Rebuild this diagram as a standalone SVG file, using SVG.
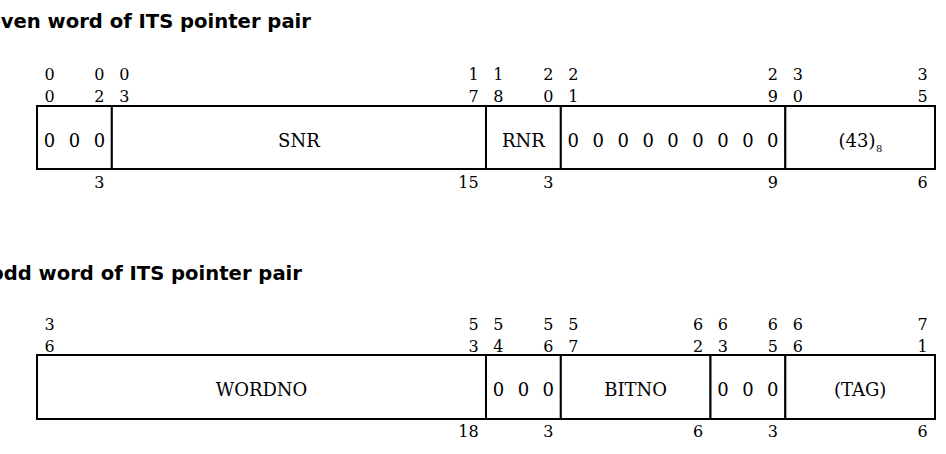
<svg xmlns="http://www.w3.org/2000/svg" width="946" height="454" viewBox="0 0 946 454">
<style>
.t{font-family:"DejaVu Sans",sans-serif;font-weight:bold;font-size:19.6px;fill:#000;text-anchor:end}
.n{font-family:"DejaVu Serif","Liberation Serif",serif;font-size:16px;fill:#000;text-anchor:middle}
.c{font-family:"DejaVu Serif","Liberation Serif",serif;font-size:18px;fill:#000;text-anchor:middle}
.ce{font-family:"DejaVu Serif","Liberation Serif",serif;font-size:18px;fill:#000;text-anchor:end}
.e{font-family:"DejaVu Serif","Liberation Serif",serif;font-size:16px;fill:#000;text-anchor:end}
.s{font-family:"DejaVu Serif","Liberation Serif",serif;font-size:10px;fill:#000;text-anchor:start}
.b{fill:#fff;stroke:#000;stroke-width:2}
</style>
<rect width="946" height="454" fill="#fff"/>
<text class="t" x="311" y="28">even word of ITS pointer pair</text>
<text class="t" x="302" y="280">odd word of ITS pointer pair</text>

<g id="even-word">
<g id="f0-2">
<rect class="b" x="37" y="106" width="74.83" height="63"/>
<text class="n" x="49.47" y="80">0</text><text class="n" x="49.47" y="102">0</text>
<text class="n" x="99.36" y="80">0</text><text class="n" x="99.36" y="102">2</text>
<text class="c" x="49.47" y="147">0</text><text class="c" x="74.42" y="147">0</text><text class="c" x="99.36" y="147">0</text>
<text class="n" x="99.36" y="188">3</text>
</g>
<g id="f3-17">
<rect class="b" x="111.83" y="106" width="374.17" height="63"/>
<text class="n" x="124.31" y="80">0</text><text class="n" x="124.31" y="102">3</text>
<text class="n" x="473.52" y="80">1</text><text class="n" x="473.52" y="102">7</text>
<text class="c" x="298.9" y="147">SNR</text>
<text class="e" x="478.6" y="188">15</text>
</g>
<g id="f18-20">
<rect class="b" x="486" y="106" width="74.83" height="63"/>
<text class="n" x="498.46" y="80">1</text><text class="n" x="498.46" y="102">8</text>
<text class="n" x="548.35" y="80">2</text><text class="n" x="548.35" y="102">0</text>
<text class="c" x="523.4" y="147">RNR</text>
<text class="n" x="548.35" y="188">3</text>
</g>
<g id="f21-29">
<rect class="b" x="560.83" y="106" width="224.5" height="63"/>
<text class="n" x="573.3" y="80">2</text><text class="n" x="573.3" y="102">1</text>
<text class="n" x="772.85" y="80">2</text><text class="n" x="772.85" y="102">9</text>
<text class="c" x="573.3" y="147">0</text><text class="c" x="598.24" y="147">0</text><text class="c" x="623.19" y="147">0</text><text class="c" x="648.13" y="147">0</text><text class="c" x="673.08" y="147">0</text><text class="c" x="698.02" y="147">0</text><text class="c" x="722.96" y="147">0</text><text class="c" x="747.91" y="147">0</text><text class="c" x="772.85" y="147">0</text>
<text class="n" x="772.85" y="188">9</text>
</g>
<g id="f30-35">
<rect class="b" x="785.33" y="106" width="149.67" height="63"/>
<text class="n" x="797.8" y="80">3</text><text class="n" x="797.8" y="102">0</text>
<text class="n" x="922.52" y="80">3</text><text class="n" x="922.52" y="102">5</text>
<text class="ce" x="875.5" y="147">(43)</text><text class="s" x="876" y="152">8</text>
<text class="n" x="922.52" y="188">6</text>
</g>
</g>

<g id="odd-word">
<g id="f36-53">
<rect class="b" x="37" y="355" width="449" height="64"/>
<text class="n" x="49.47" y="330">3</text><text class="n" x="49.47" y="352">6</text>
<text class="n" x="473.52" y="330">5</text><text class="n" x="473.52" y="352">3</text>
<text class="c" x="261.5" y="396">WORDNO</text>
<text class="e" x="478.6" y="437">18</text>
</g>
<g id="f54-56">
<rect class="b" x="486" y="355" width="74.83" height="64"/>
<text class="n" x="498.46" y="330">5</text><text class="n" x="498.46" y="352">4</text>
<text class="n" x="548.35" y="330">5</text><text class="n" x="548.35" y="352">6</text>
<text class="c" x="498.46" y="396">0</text><text class="c" x="523.4" y="396">0</text><text class="c" x="548.35" y="396">0</text>
<text class="n" x="548.35" y="437">3</text>
</g>
<g id="f57-62">
<rect class="b" x="560.83" y="355" width="149.67" height="64"/>
<text class="n" x="573.3" y="330">5</text><text class="n" x="573.3" y="352">7</text>
<text class="n" x="698.02" y="330">6</text><text class="n" x="698.02" y="352">2</text>
<text class="c" x="635.66" y="396">BITNO</text>
<text class="n" x="698.02" y="437">6</text>
</g>
<g id="f63-65">
<rect class="b" x="710.5" y="355" width="74.83" height="64"/>
<text class="n" x="722.96" y="330">6</text><text class="n" x="722.96" y="352">3</text>
<text class="n" x="772.85" y="330">6</text><text class="n" x="772.85" y="352">5</text>
<text class="c" x="722.96" y="396">0</text><text class="c" x="747.91" y="396">0</text><text class="c" x="772.85" y="396">0</text>
<text class="n" x="772.85" y="437">3</text>
</g>
<g id="f66-71">
<rect class="b" x="785.33" y="355" width="149.67" height="64"/>
<text class="n" x="797.8" y="330">6</text><text class="n" x="797.8" y="352">6</text>
<text class="n" x="922.52" y="330">7</text><text class="n" x="922.52" y="352">1</text>
<text class="c" x="860.16" y="396">(TAG)</text>
<text class="n" x="922.52" y="437">6</text>
</g>
</g>
<g id="connectors"/>
</svg>
